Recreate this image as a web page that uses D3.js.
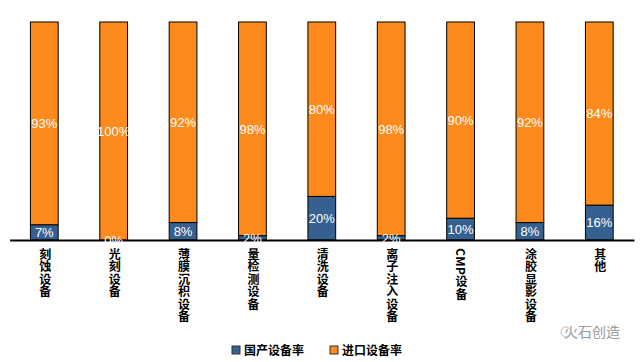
<!DOCTYPE html>
<html>
<head>
<meta charset="utf-8">
<script src="https://cdn.jsdelivr.net/npm/d3@7"></script>
<style>
  body { margin: 0; background: #fff; }
  svg { display: block; }
</style>
</head>
<body>
<div id="root"></div>
<script>
const categories = ["刻蚀设备", "光刻设备", "薄膜沉积设备", "量检测设备", "清洗设备", "离子注入设备", "CMP设备", "涂胶显影设备", "其他"];
const domestic = [7, 0, 8, 2, 20, 2, 10, 8, 16];
const imported = [93, 100, 92, 98, 80, 98, 90, 92, 84];
const seriesNames = ["国产设备率", "进口设备率"];
const colors = ["#36608F", "#FD8A1C"];

const w = 642;
const h = 362;
const baseY = 240;
const topY = 22;

const svg = d3.select("#root")
  .append("svg")
  .attr("width", w)
  .attr("height", h);

const xScale = d3.scaleBand()
  .domain(categories)
  .range([9.6, 634])
  .paddingInner(0.6)
  .paddingOuter(0.3);

const yScale = d3.scaleLinear()
  .domain([0, 100])
  .range([baseY, topY]);

const rows = categories.map((c, i) => ({ cat: c, values: [domestic[i], imported[i]] }));
const stacked = d3.stack().keys([0, 1]).value((d, k) => d.values[k])(rows);

svg.selectAll("g.series")
  .data(stacked)
  .enter()
  .append("g")
  .attr("class", "series")
  .attr("fill", (d, i) => colors[i])
  .selectAll("rect")
  .data(d => d)
  .enter()
  .append("rect")
  .attr("x", d => xScale(d.data.cat))
  .attr("y", d => yScale(d[1]))
  .attr("width", xScale.bandwidth())
  .attr("height", d => yScale(d[0]) - yScale(d[1]))
  .attr("stroke", "#000")
  .attr("stroke-width", 1);

// x axis line
const xAxis = d3.axisBottom(xScale).tickSize(0).tickFormat("");
svg.append("g")
  .attr("transform", `translate(0, ${baseY})`)
  .call(xAxis)
  .call(g => g.select(".domain").attr("stroke", "#000").attr("stroke-width", 2));

// value labels, drawn after all bars so small ones stay visible
svg.selectAll("g.vals")
  .data(stacked)
  .enter()
  .append("g")
  .attr("class", "vals")
  .selectAll("text")
  .data(d => d)
  .enter()
  .append("text")
  .attr("x", d => xScale(d.data.cat) + xScale.bandwidth() / 2)
  .attr("y", d => (yScale(d[0]) + yScale(d[1])) / 2)
  .attr("dy", "0.36em")
  .attr("text-anchor", "middle")
  .attr("fill", "#fff")
  .style("font", "13px 'Liberation Sans', Arial, sans-serif")
  .text(d => (d[1] - d[0]) + "%");

// vertical category labels
svg.append("g")
  .selectAll("text")
  .data(categories)
  .enter()
  .append("text")
  .attr("x", d => xScale(d) + xScale.bandwidth() / 2 + 1)
  .attr("y", 248)
  .style("writing-mode", "vertical-rl")
  .style("letter-spacing", "0.5px")
  .style("font", "bold 12px 'Noto Sans CJK SC', sans-serif")
  .attr("fill", "#000")
  .text(d => d);

// legend
const legend = svg.append("g")
  .style("font", "bold 12px 'Noto Sans CJK SC', sans-serif");
const legendX = [232, 330];
seriesNames.forEach((n, i) => {
  legend.append("rect")
    .attr("x", legendX[i])
    .attr("y", 346)
    .attr("width", 8)
    .attr("height", 8)
    .attr("fill", colors[i])
    .attr("stroke", "#333");
  legend.append("text")
    .attr("x", legendX[i] + 12)
    .attr("y", 354.5)
    .text(n);
});

// watermark
svg.append("text")
  .attr("x", 620)
  .attr("y", 337)
  .attr("text-anchor", "end")
  .attr("fill", "#999")
  .style("font", "14px 'Noto Sans CJK SC', sans-serif")
  .text("火石创造");
svg.append("circle")
  .attr("cx", 566)
  .attr("cy", 332)
  .attr("r", 5)
  .attr("fill", "none")
  .attr("stroke", "#bbb");
</script>
</body>
</html>
